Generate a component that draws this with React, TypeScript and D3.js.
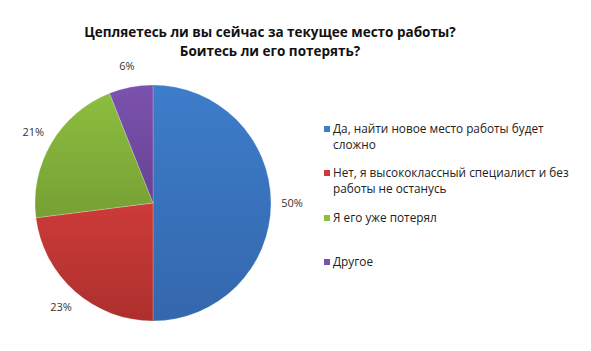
import React from 'react';
import * as d3 from 'd3';

// survey answers, clockwise from 12 o'clock
const categories = [
  'Да, найти новое место работы будет сложно',
  'Нет, я высококлассный специалист и без работы не останусь',
  'Я его уже потерял',
  'Другое',
];
const values = [50, 23, 21, 6];
const legendLines = [
  ['Да, найти новое место работы будет', 'сложно'],
  ['Нет, я высококлассный специалист и без', 'работы не останусь'],
  ['Я его уже потерял'],
  ['Другое'],
];
const titleLines = [
  'Цепляетесь ли вы сейчас за текущее место работы?',
  'Боитесь ли его потерять?',
];
const colors = ['#3d7dca', '#cc3b38', '#8cbe3f', '#7b52ae'];
const darker = ['#3467ad', '#ad302e', '#76a034', '#654392'];

const W = 591, H = 351;
const cx = 153, cy = 203, R = 118;
const font = '"Open Sans", sans-serif';

export default function App() {
  const pie = d3.pie<number>().sort(null).value(d => d);
  const arcs = pie(values);
  const arc = d3.arc<d3.PieArcDatum<number>>().innerRadius(0).outerRadius(R);
  const labelArc = d3.arc<d3.PieArcDatum<number>>().innerRadius(R + 21).outerRadius(R + 21);

  // legend rows: y of first text line for each item
  const legendY = [129, 173, 218, 262];

  return (
    <svg width={W} height={H} style={{ position: 'absolute', left: 0, top: 0, background: '#fff' }}>
      <defs>
        {colors.map((c, i) => (
          <linearGradient key={i} id={`g${i}`} x1="0" y1="0" x2="0" y2="1">
            <stop offset="0%" stopColor={c} />
            <stop offset="100%" stopColor={darker[i]} />
          </linearGradient>
        ))}
      </defs>

      <g fontFamily={font} fontWeight={700} fontSize={13.5} fill="#111" textAnchor="middle">
        {titleLines.map((t, i) => (
          <text key={i} x={270} y={37 + i * 19}>{t}</text>
        ))}
      </g>

      <g transform={`translate(${cx},${cy})`}>
        {arcs.map((a, i) => (
          <path key={i} d={arc(a) || ''} fill={`url(#g${i})`} stroke="#fff" strokeOpacity={0.35} strokeWidth={0.6}>
            <title>{categories[i]}</title>
          </path>
        ))}
        {arcs.map((a, i) => {
          const [x, y] = labelArc.centroid(a);
          return (
            <text key={i} x={x} y={y} dy="0.35em" textAnchor="middle" fontFamily={font} fontSize={11} fill="#333">
              {`${values[i]}%`}
            </text>
          );
        })}
      </g>

      <g fontFamily={font} fontSize={11.8} fill="#222">
        {legendLines.map((lines, i) => (
          <g key={i}>
            <rect x={324} y={legendY[i] - 3} width={6} height={6} fill={colors[i]} />
            {lines.map((l, j) => (
              <text key={j} x={333} y={legendY[i] + j * 16} dy="0.35em">{l}</text>
            ))}
          </g>
        ))}
      </g>
    </svg>
  );
}
